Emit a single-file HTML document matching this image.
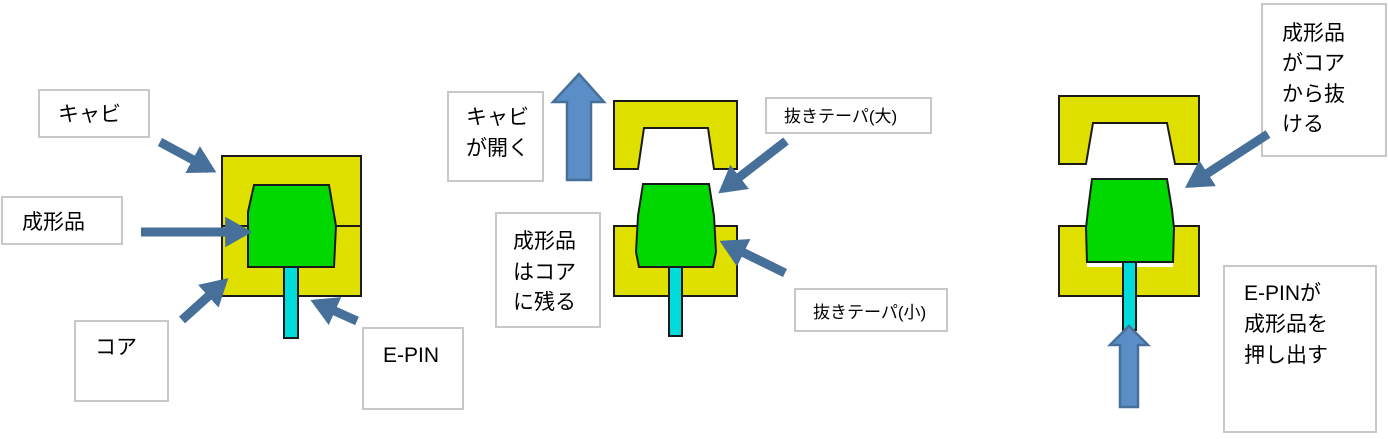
<!DOCTYPE html>
<html><head><meta charset="utf-8"><style>
body{margin:0;background:#fff;width:1388px;height:434px;overflow:hidden}
svg text{font-family:"Liberation Sans","Noto Sans CJK JP",sans-serif;font-size:21px;fill:#000}
</style></head><body>
<svg width="1388" height="434" viewBox="0 0 1388 434" xmlns="http://www.w3.org/2000/svg">
<defs>
<marker id="ah" markerWidth="3" markerHeight="3.4" refX="2.2" refY="1.7" orient="auto" markerUnits="strokeWidth">
<path d="M0,0 L3,1.7 L0,3.4 Z" fill="#46709a"/></marker>
</defs>
<g fill="#fff" stroke="#c8c8c8" stroke-width="2">
<rect x="39" y="90" width="110" height="47"/>
<rect x="2" y="197" width="120" height="47"/>
<rect x="75" y="321" width="93" height="80"/>
<rect x="363" y="328" width="100" height="81"/>
<rect x="448" y="92" width="95" height="89"/>
<rect x="496" y="213" width="104" height="114"/>
<rect x="766" y="98" width="165" height="35"/>
<rect x="795" y="289" width="152" height="42"/>
<rect x="1262" y="4" width="124" height="152"/>
<rect x="1224" y="266" width="152" height="166"/>
</g>
<text x="58" y="121">キャビ</text>
<text x="22" y="229">成形品</text>
<text x="95" y="354">コア</text>
<text x="383" y="362">E-PIN</text>
<text x="466" y="124">キャビ</text>
<text x="466" y="155">が開く</text>
<text x="513" y="248">成形品</text>
<text x="513" y="279">はコア</text>
<text x="513" y="309">に残る</text>
<text x="784" y="122" style="font-size:17px">抜きテーパ(大)</text>
<text x="813" y="318" style="font-size:17px">抜きテーパ(小)</text>
<text x="1282" y="40">成形品</text>
<text x="1282" y="70">がコア</text>
<text x="1282" y="101">から抜</text>
<text x="1282" y="131">ける</text>
<text x="1244" y="300">E-PINが</text>
<text x="1244" y="331">成形品を</text>
<text x="1244" y="362">押し出す</text>

<g stroke="#1a1a1a" stroke-width="2">
<rect x="222" y="156" width="139" height="140" fill="#dfdf00"/>
<line x1="222" y1="226" x2="250" y2="226"/><line x1="334" y1="226" x2="361" y2="226"/>
<polygon points="254,185 329,185 336,226 334,267 248,267 248,212" fill="#00d800"/>
<rect x="284" y="267" width="14" height="71" fill="#00dcdc"/>
<path d="M614,101 H737 V169 H714 L708,128 H644 L638,169 H614 Z" fill="#dfdf00"/>
<rect x="614" y="226" width="123" height="70" fill="#dfdf00"/>
<polygon points="643,184 709,184 714,216 716,252 713,267 639,267 636,252 638,216" fill="#00d800"/>
<rect x="669" y="267" width="13" height="69" fill="#00dcdc"/>
<path d="M1059,96 H1199 V164 H1175 L1167,123 H1093 L1086,164 H1059 Z" fill="#dfdf00"/>
<rect x="1059" y="226" width="140" height="70" fill="#dfdf00"/>
<rect x="1087" y="262" width="86" height="5" fill="#fff" stroke="none"/>
<polygon points="1092,179 1167,179 1172,210 1174,228 1173,262 1087,262 1086,228 1088,210" fill="#00d800"/>
<rect x="1123" y="262" width="13" height="68" fill="#00dcdc"/>
</g>

<g stroke="#46709a" stroke-width="9" fill="none" marker-end="url(#ah)">
<line x1="160" y1="142" x2="210" y2="169"/>
<line x1="141" y1="232" x2="245" y2="232"/>
<line x1="182" y1="320" x2="223" y2="283"/>
<line x1="357" y1="321" x2="317" y2="303"/>
<line x1="786" y1="141" x2="724" y2="189"/>
<line x1="785" y1="273" x2="726" y2="244"/>
<line x1="1268" y1="134" x2="1191" y2="184"/>
</g>
<path d="M567,180 V102 H553 L579,74 L604,102 H591 V180 Z" fill="#5b8ec6" stroke="#46709a" stroke-width="2.5"/>
<path d="M1120,407 V345 H1110 L1129,326 L1148,345 H1138 V407 Z" fill="#5b8ec6" stroke="#46709a" stroke-width="2.5"/>
</svg>
</body></html>
